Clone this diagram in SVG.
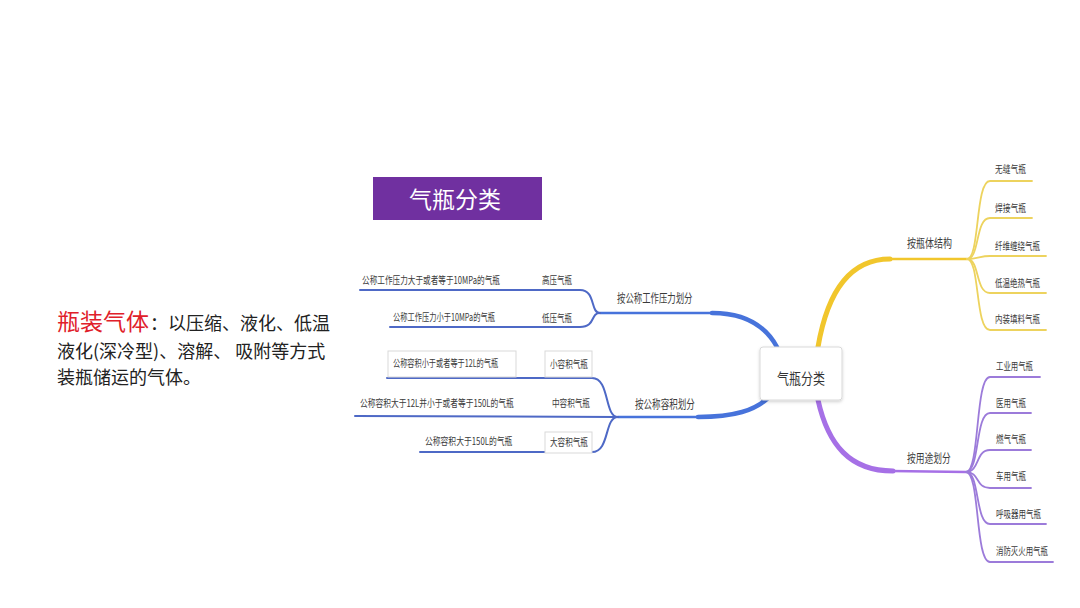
<svg xmlns="http://www.w3.org/2000/svg" width="1080" height="608" viewBox="0 0 1080 608">
<defs>
<style>
text{font-family:"Noto Sans CJK SC","Noto Sans",sans-serif;}
.t{font-size:10.5px;fill:#3a3a3a;dominant-baseline:central;}
.lb{font-size:12px;fill:#3a3a3a;dominant-baseline:central;}
.bt{fill:none;stroke:#4773DB;stroke-linecap:round;}
.bs{fill:none;stroke:#4E69C6;stroke-width:2;stroke-linecap:round;}
.yt{fill:none;stroke:#F1C62C;stroke-linecap:round;}
.ys{fill:none;stroke:#EDD35E;stroke-width:1.8;stroke-linecap:round;}
.pt{fill:none;stroke:#A670E6;stroke-linecap:round;}
.ps{fill:none;stroke:#9C7BDA;stroke-width:1.8;stroke-linecap:round;}
.box{fill:#fff;stroke:#d9d9d9;stroke-width:1;}
</style>
<filter id="sh" x="-20%" y="-20%" width="140%" height="150%">
<feDropShadow dx="0" dy="1.5" stdDeviation="1.5" flood-color="#000" flood-opacity="0.18"/>
</filter>
</defs>
<rect width="1080" height="608" fill="#ffffff"/>

<g id="intro">
<text x="57" y="330" font-size="23" fill="#E0202A">瓶装气体</text>
<text x="150" y="330" font-size="18" fill="#222">：以压缩、液化、低温</text>
<text x="57" y="358" font-size="18" fill="#222">液化(深冷型)、溶解、 吸附等方式</text>
<text x="57" y="384" font-size="18" fill="#222">装瓶储运的气体。</text>
</g>

<g id="title">
<rect x="373" y="177" width="169" height="43" fill="#7030A0"/>
<text x="455" y="198" font-size="23" fill="#fff" text-anchor="middle" dominant-baseline="central">气瓶分类</text>
</g>

<g id="connectors">
<path class="bt" stroke-width="2.5" d="M600 313 L715 313"/>
<path class="bt" stroke-width="4.5" d="M712 313 C745 313 765 325 777 347"/>
<path class="bt" stroke-width="2.5" d="M618 417 L700 417"/>
<path class="bt" stroke-width="4.5" d="M698 417 C735 417 755 410 768 398"/>
<path class="bs" d="M600 313 C590 313 596 290 580 290 L360 290"/>
<path class="bs" d="M600 313 C590 313 596 327 580 327 L390 327"/>
<path class="bs" d="M618 417 C604 417 610 378 592 378 L387 378"/>
<path class="bs" d="M618 417 L355 416"/>
<path class="bs" d="M618 417 C604 417 610 452 592 452 L420 452"/>
<path class="yt" stroke-width="5" d="M818 347 C826 300 845 259 890 259"/>
<path class="yt" stroke-width="2.5" d="M888 259 L967 259"/>
<path class="ys" d="M967 259 C980 259 975 181 990 181 L1032 181"/>
<path class="ys" d="M967 259 C980 259 975 218 990 218 L1032 218"/>
<path class="ys" d="M967 259 C978 259 980 256 990 256 L1046 256"/>
<path class="ys" d="M967 259 C980 259 975 293 990 293 L1046 293"/>
<path class="ys" d="M967 259 C980 259 975 330 990 330 L1046 330"/>
<path class="pt" stroke-width="5" d="M818 400 C828 445 850 471 893 471"/>
<path class="pt" stroke-width="2.5" d="M891 471 L966 472"/>
<path class="ps" d="M966 472 C980 472 975 377 990 377 L1040 377"/>
<path class="ps" d="M966 472 C980 472 975 413 990 413 L1031 413"/>
<path class="ps" d="M966 472 C980 472 975 450 990 450 L1031 450"/>
<path class="ps" d="M966 472 C980 472 975 488 990 488 L1031 488"/>
<path class="ps" d="M966 472 C980 472 975 524 990 524 L1046 524"/>
<path class="ps" d="M966 472 C980 472 975 562 990 562 L1053 562"/>
</g>

<g id="center">
<rect x="760" y="347" width="82" height="53" rx="3" class="box" filter="url(#sh)"/>
<text font-size="15" fill="#333" dominant-baseline="central" transform="translate(777 377) scale(0.8 1)">气瓶分类</text>
</g>

<g id="pressure">
<text class="lb" transform="translate(617 298) scale(0.7 1)">按公称工作压力划分</text>
</g>
<g id="high-pressure">
<text class="t" transform="translate(362 279) scale(0.728 1)">公称工作压力大于或者等于10MPa的气瓶</text>
<text class="t" transform="translate(542 279) scale(0.714 1)">高压气瓶</text>
</g>
<g id="low-pressure">
<text class="t" transform="translate(393 317) scale(0.69 1)">公称工作压力小于10MPa的气瓶</text>
<text class="t" transform="translate(542 317) scale(0.714 1)">低压气瓶</text>
</g>

<g id="volume">
<text class="lb" transform="translate(635 404) scale(0.714 1)">按公称容积划分</text>
</g>
<g id="small-volume">
<rect x="388" y="351" width="128" height="26" class="box"/>
<text class="t" transform="translate(393 363) scale(0.684 1)">公称容积小于或者等于12L的气瓶</text>
<rect x="545" y="351" width="47" height="26" class="box"/>
<text class="t" transform="translate(550 363) scale(0.724 1)">小容积气瓶</text>
</g>
<g id="mid-volume">
<text class="t" transform="translate(360 402) scale(0.738 1)">公称容积大于12L并小于或者等于150L的气瓶</text>
<text class="t" transform="translate(552 402) scale(0.724 1)">中容积气瓶</text>
</g>
<g id="large-volume">
<text class="t" transform="translate(425 440) scale(0.743 1)">公称容积大于150L的气瓶</text>
<rect x="545" y="432" width="47" height="21" class="box"/>
<text class="t" transform="translate(550 441) scale(0.724 1)">大容积气瓶</text>
</g>

<g id="structure">
<text class="lb" transform="translate(907 243) scale(0.75 1)">按瓶体结构</text>
</g>
<g id="s1"><text class="t" transform="translate(995 168) scale(0.74 1)">无缝气瓶</text></g>
<g id="s2"><text class="t" transform="translate(995 207) scale(0.74 1)">焊接气瓶</text></g>
<g id="s3"><text class="t" transform="translate(995 245) scale(0.714 1)">纤维缠绕气瓶</text></g>
<g id="s4"><text class="t" transform="translate(995 282) scale(0.714 1)">低温绝热气瓶</text></g>
<g id="s5"><text class="t" transform="translate(995 318) scale(0.714 1)">内装填料气瓶</text></g>

<g id="usage">
<text class="lb" transform="translate(907 458) scale(0.73 1)">按用途划分</text>
</g>
<g id="u1"><text class="t" transform="translate(996 365) scale(0.705 1)">工业用气瓶</text></g>
<g id="u2"><text class="t" transform="translate(996 402) scale(0.714 1)">医用气瓶</text></g>
<g id="u3"><text class="t" transform="translate(996 438) scale(0.714 1)">燃气气瓶</text></g>
<g id="u4"><text class="t" transform="translate(996 475) scale(0.714 1)">车用气瓶</text></g>
<g id="u5"><text class="t" transform="translate(996 513) scale(0.714 1)">呼吸器用气瓶</text></g>
<g id="u6"><text class="t" transform="translate(996 550) scale(0.707 1)">消防灭火用气瓶</text></g>
</svg>
